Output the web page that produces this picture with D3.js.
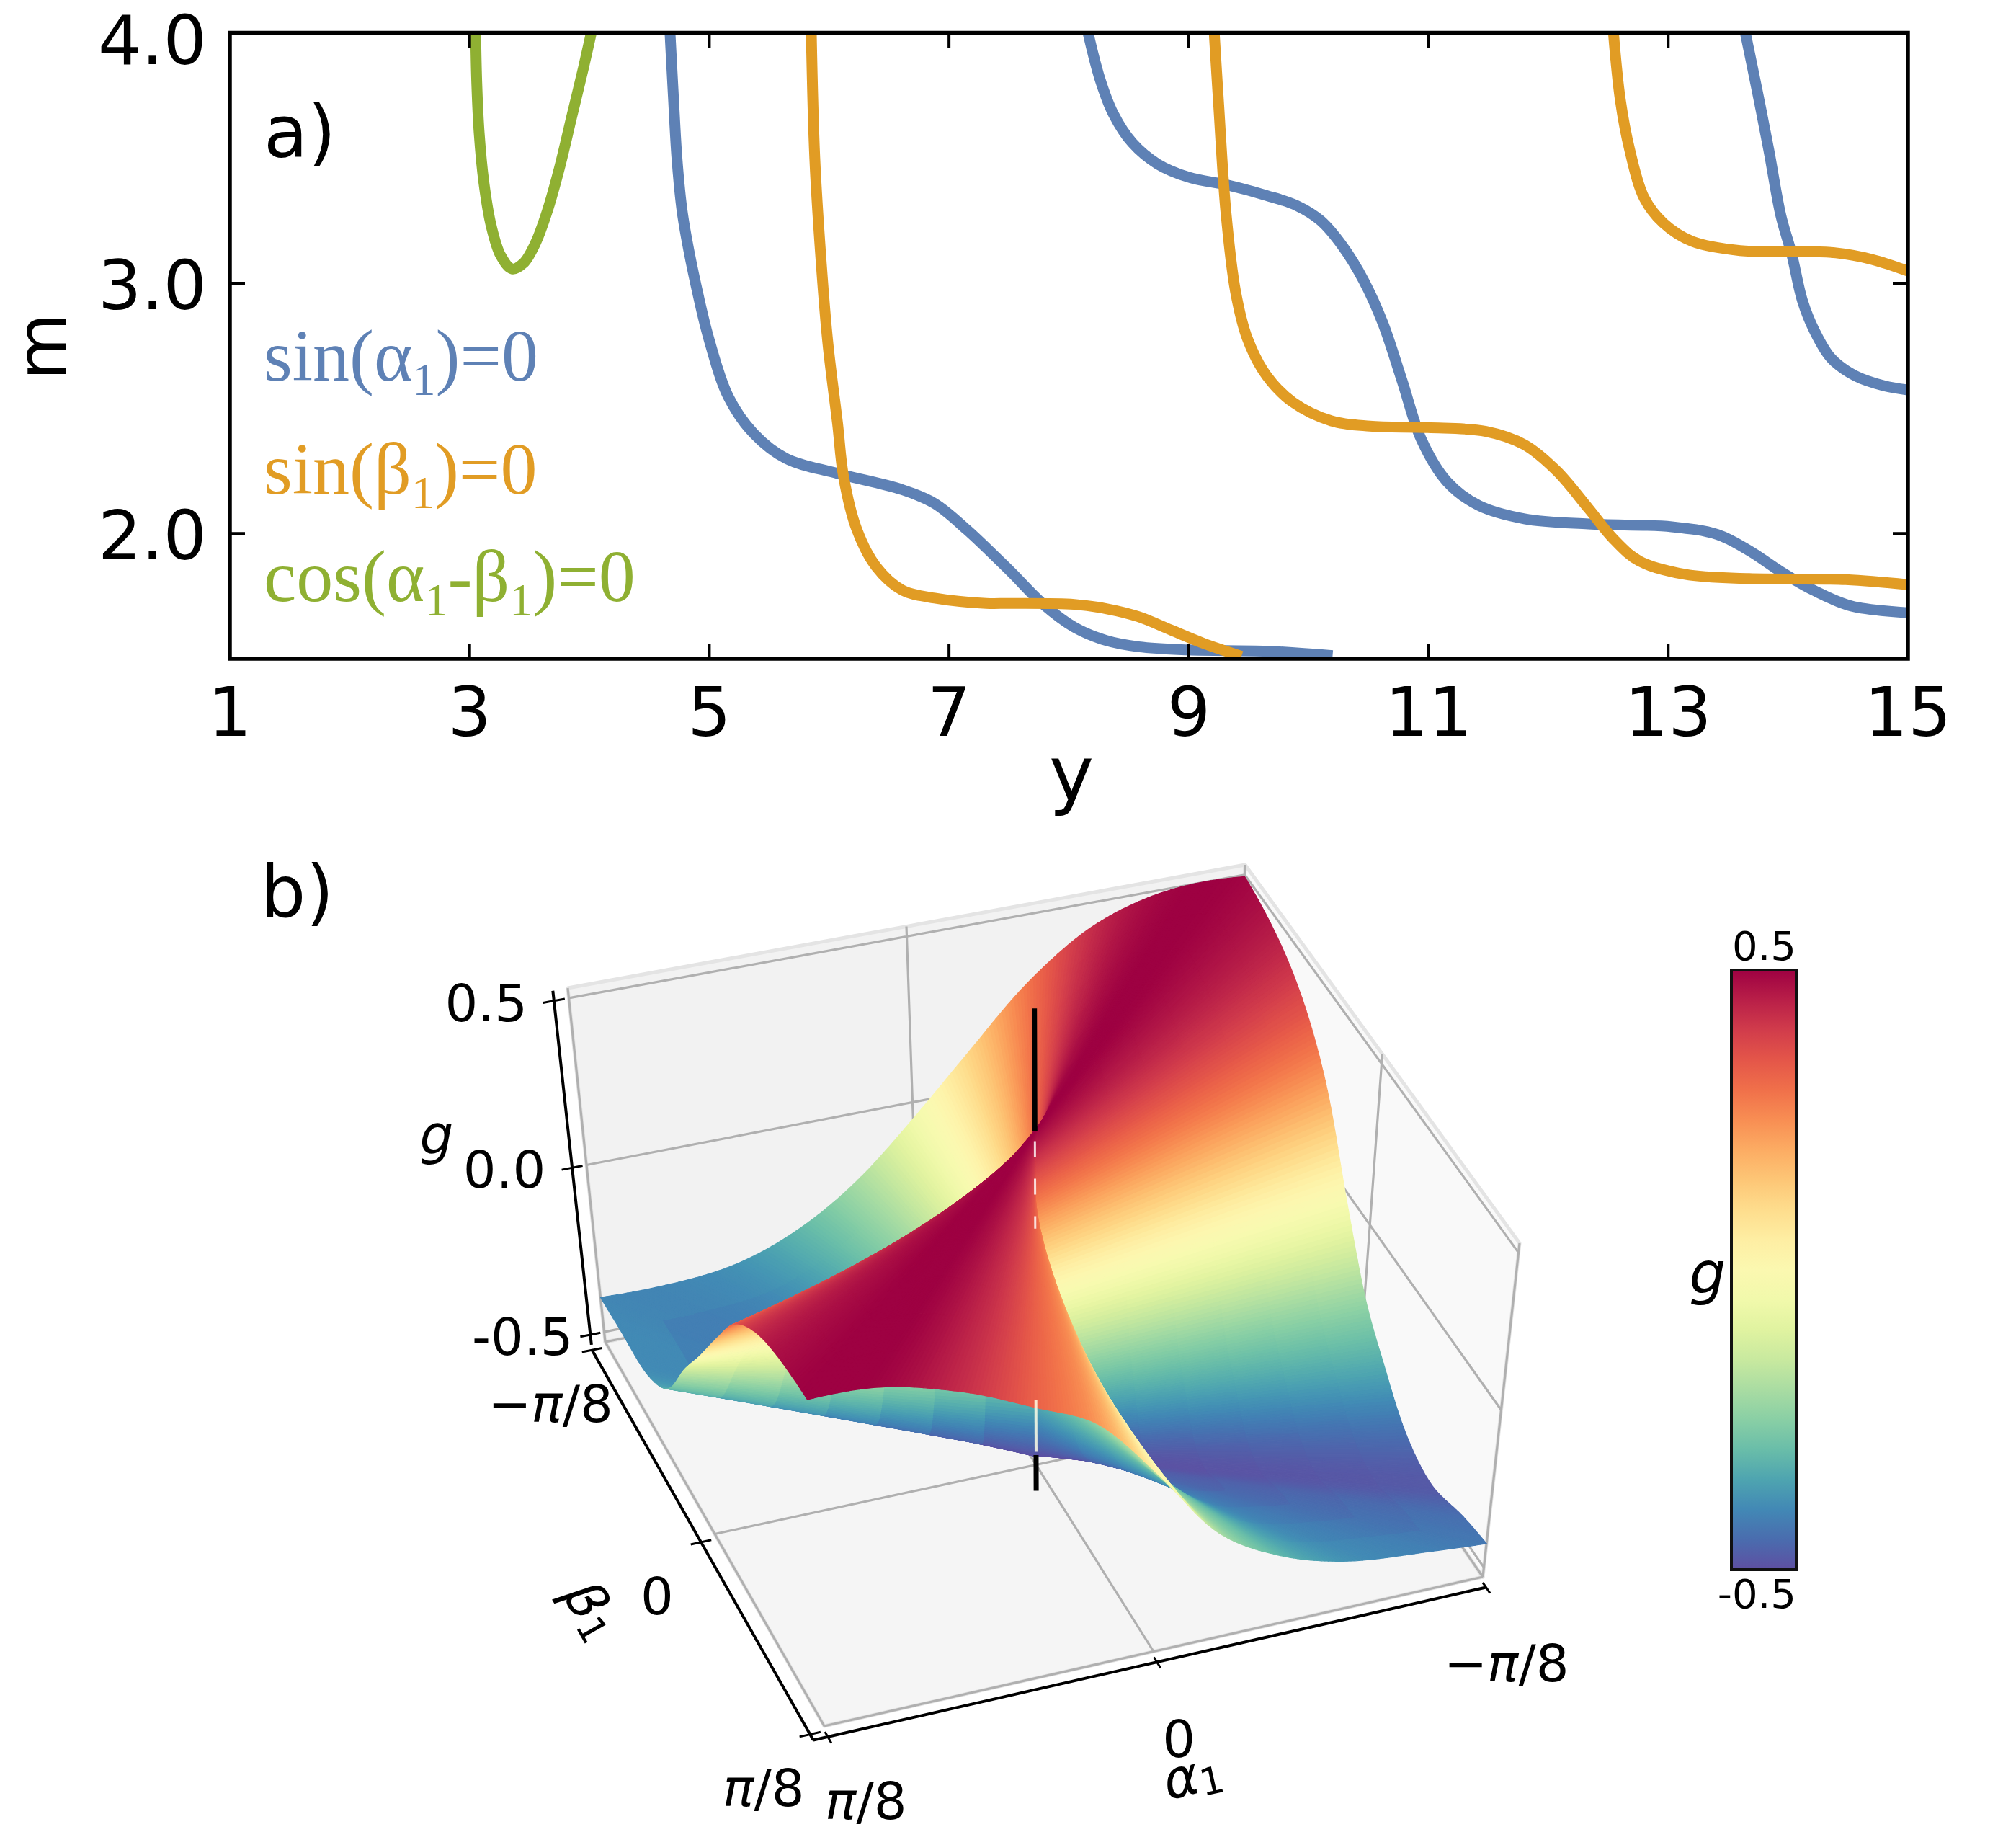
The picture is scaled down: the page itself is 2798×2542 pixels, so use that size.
<!DOCTYPE html>
<html>
<head>
<meta charset="utf-8">
<script src="https://cdn.jsdelivr.net/npm/d3@7"></script>
<style>body{margin:0;background:#fff}</style>
</head>
<body>
<script>
// ---------------- panel a) data: [y, m] points
const yTicks = [1, 3, 5, 7, 9, 11, 13, 15];
const mTicks = [2.0, 3.0, 4.0];

const sinAlphaBranches = [
  [[4.67, 4.02], [4.70, 3.75], [4.73, 3.50], [4.77, 3.30], [4.81, 3.18], [4.89, 2.99], [4.995, 2.78],
   [5.16, 2.545], [5.37, 2.40], [5.64, 2.30], [6.07, 2.24], [6.61, 2.175], [6.88, 2.12], [7.145, 2.017],
   [7.51, 1.85], [7.78, 1.72], [8.045, 1.626], [8.31, 1.573], [8.58, 1.548], [9.0, 1.535], [9.65, 1.53], [10.2, 1.512]],
  [[8.15, 4.02], [8.26, 3.814], [8.37, 3.677], [8.53, 3.56], [8.74, 3.476], [9.0, 3.423], [9.33, 3.391],
   [9.65, 3.35], [9.9, 3.31], [10.1, 3.25], [10.28, 3.15], [10.46, 3.01], [10.62, 2.84], [10.78, 2.61], [10.94, 2.376],
   [11.155, 2.207], [11.42, 2.112], [11.80, 2.059], [12.335, 2.038], [13.03, 2.027], [13.41, 1.996],
   [13.675, 1.932], [13.94, 1.848], [14.21, 1.774], [14.53, 1.71], [15.02, 1.683]],
  [[13.635, 4.02], [13.74, 3.775], [13.84, 3.53], [13.94, 3.27], [14.03, 3.117], [14.12, 2.93], [14.22, 2.81],
   [14.36, 2.70], [14.56, 2.63], [14.80, 2.59], [15.02, 2.572]]
];
const sinBetaBranches = [
  [[5.85, 4.02], [5.88, 3.50], [5.935, 3.074], [5.99, 2.757], [6.07, 2.44], [6.12, 2.228], [6.23, 2.017],
   [6.39, 1.869], [6.61, 1.774], [6.88, 1.742], [7.31, 1.721], [7.51, 1.721], [8.045, 1.717], [8.31, 1.70],
   [8.58, 1.668], [8.85, 1.615], [9.12, 1.562], [9.44, 1.51]],
  [[9.21, 4.02], [9.25, 3.71], [9.31, 3.285], [9.39, 2.968], [9.49, 2.778], [9.65, 2.63], [9.87, 2.524],
   [10.19, 2.45], [10.51, 2.429], [10.995, 2.423], [11.48, 2.408], [11.80, 2.355], [12.07, 2.25], [12.335, 2.10],
   [12.55, 1.975], [12.76, 1.89], [13.14, 1.837], [13.675, 1.82], [14.48, 1.816], [15.02, 1.795]],
  [[12.54, 4.02], [12.60, 3.734], [12.68, 3.53], [12.80, 3.34], [12.96, 3.24], [13.20, 3.167], [13.60, 3.13],
   [14.00, 3.126], [14.40, 3.121], [14.70, 3.095], [15.02, 3.045]]
];
const cosBranches = [
  [[3.05, 4.02], [3.06, 3.80], [3.08, 3.60], [3.12, 3.40], [3.18, 3.23], [3.26, 3.11], [3.355, 3.057],
   [3.45, 3.08], [3.55, 3.16], [3.65, 3.29], [3.75, 3.46], [3.85, 3.66], [3.95, 3.86], [4.025, 4.02]]
];
const series = [
  {name: "sinAlpha", color: "#5e81b5", branches: sinAlphaBranches},
  {name: "sinBeta", color: "#e19c24", branches: sinBetaBranches},
  {name: "cosAlphaBeta", color: "#8fb032", branches: cosBranches}
];

// ---------------- panel b) data
// g along the rulings that leave the singular point (α1, β1) = (0, 0),
// by ruling direction (degrees, atan2(β1, α1)): value next to the origin and at the border
const rayAngles = [-180, -170, -160, -150, -140, -130, -120, -110, -100, -90, -80, -70, -60, -50, -40, -30, -20, -10,
                   0, 10, 20, 30, 40, 50, 60, 70, 80, 90, 100, 110, 120, 130, 140, 150, 160, 170];
const rayGEdge = [-0.22, -0.02, 0.22, 0.38, 0.47, 0.50, 0.44, 0.30, 0.12, -0.05, -0.20, -0.31, -0.38, -0.40, -0.39, -0.38, -0.30, -0.13,
                  0.02, 0.18, 0.34, 0.44, 0.49, 0.50, 0.43, 0.33, 0.23, 0.03, -0.19, -0.31, -0.38, -0.41, -0.44, -0.48, -0.44, -0.34];
const rayGCenter = [-0.24, -0.02, 0.22, 0.38, 0.47, 0.50, 0.44, 0.30, 0.12, -0.05, -0.20, -0.31, -0.42, -0.47, -0.50, -0.50, -0.46, -0.25,
                    0.02, 0.18, 0.34, 0.44, 0.49, 0.50, 0.43, 0.33, 0.23, 0.03, -0.19, -0.31, -0.42, -0.47, -0.49, -0.50, -0.47, -0.36];
const gTicks = [-0.5, 0.0, 0.5];
const alphaTicks = [Math.PI / 8, 0, -Math.PI / 8];
const alphaTickLabels = [["", "π", "/8"], ["0", "", ""], ["−", "π", "/8"]];
const betaTicks = [-Math.PI / 8, 0, Math.PI / 8];
const betaTickLabels = [["−", "π", "/8"], ["0", "", ""], ["", "π", "/8"]];
const gLineParts = [[0.50, 0.88], [-0.61, -0.50]];   // visible parts of the vertical black line at the origin

const W = 2798, H = 2542;
const svg = d3.select("body").append("svg")
    .attr("width", W).attr("height", H)
    .style("font-family", "DejaVu Sans");

// =============== panel a) ===============
const x = d3.scaleLinear().domain([1, 15]).range([319, 2648]);
const y = d3.scaleLinear().domain([1.5, 4]).range([914, 45.5]);

svg.append("clipPath").attr("id", "clipA")
  .append("rect").attr("x", x(1)).attr("y", y(4)).attr("width", x(15) - x(1)).attr("height", y(1.5) - y(4));

const line = d3.line().x(d => x(d[0])).y(d => y(d[1])).curve(d3.curveCatmullRom.alpha(0.5));

const gA = svg.append("g");
gA.append("g").attr("clip-path", "url(#clipA)")
  .selectAll("g").data(series).join("g")
    .attr("stroke", d => d.color)
  .selectAll("path").data(d => d.branches).join("path")
    .attr("fill", "none")
    .attr("stroke-width", 15)
    .attr("stroke-linejoin", "round")
    .attr("d", line);

// frame and inward ticks on all four sides
gA.append("rect")
    .attr("x", x(1)).attr("y", y(4)).attr("width", x(15) - x(1)).attr("height", y(1.5) - y(4))
    .attr("fill", "none").attr("stroke", "#000").attr("stroke-width", 5.5);
const tl = 21;
gA.selectAll(".xt").data(yTicks.slice(1, -1)).join("path")
    .attr("stroke", "#000").attr("stroke-width", 4)
    .attr("d", d => `M${x(d)},${y(1.5)}v${-tl}M${x(d)},${y(4)}v${tl}`);
gA.selectAll(".yt").data(mTicks.slice(0, -1)).join("path")
    .attr("stroke", "#000").attr("stroke-width", 4)
    .attr("d", d => `M${x(1)},${y(d)}h${tl}M${x(15)},${y(d)}h${-tl}`);

gA.selectAll(".xl").data(yTicks).join("text")
    .attr("x", d => x(d)).attr("y", 1021)
    .attr("text-anchor", "middle").attr("font-size", 95)
    .text(d => d);
gA.selectAll(".yl").data(mTicks).join("text")
    .attr("x", 287).attr("y", d => Math.max(y(d) + 36, 89))
    .attr("text-anchor", "end").attr("font-size", 95)
    .text(d => d.toFixed(1));

gA.append("text").attr("transform", "translate(91,481) rotate(-90)")
    .attr("text-anchor", "middle").attr("font-size", 96).text("m");
gA.append("text").attr("x", 1487).attr("y", 1110)
    .attr("text-anchor", "middle").attr("font-size", 105).text("y");
gA.append("text").attr("x", 366).attr("y", 218).attr("font-size", 100).text("a)");

// legend (serif, with subscripts)
const legend = [
  {color: "#5e81b5", y: 528, parts: [["sin(α", 0], ["1", 1], [")=0", 0]]},
  {color: "#e19c24", y: 685, parts: [["sin(β", 0], ["1", 1], [")=0", 0]]},
  {color: "#8fb032", y: 834, parts: [["cos(α", 0], ["1", 1], ["-β", 0], ["1", 1], [")=0", 0]]}
];
const lg = gA.selectAll(".lg").data(legend).join("text")
    .attr("x", 366).attr("y", d => d.y)
    .attr("fill", d => d.color)
    .attr("font-family", "Liberation Serif").attr("font-size", 102);
lg.selectAll("tspan").data(d => d.parts.map((p, i) => [p[0], p[1], i > 0 ? d.parts[i - 1][1] : 0])).join("tspan")
    .attr("font-size", d => d[1] ? 64 : 102)
    .attr("dy", d => d[1] && !d[2] ? 20 : (!d[1] && d[2] ? -20 : 0))
    .text(d => d[0]);

// =============== panel b) ===============
const PI8 = Math.PI / 8;
const gLo = -0.53, gHi = 0.53;
// screen corners of the 3D axes box, keyed by (u, v, w) in {0,1}:
// u: α1 from π/8 to -π/8, v: β1 from -π/8 to π/8, w: g from gLo to gHi
const box = {
  "000": [840, 1862], "010": [1144, 2395], "110": [2058, 2188], "100": [1710, 1685],
  "001": [788, 1371], "011": [1120, 1930], "111": [2109, 1725], "101": [1728, 1200]
};
function tri(u, v, w) {
  let X = 0, Y = 0;
  for (const iu of [0, 1]) for (const iv of [0, 1]) for (const iw of [0, 1]) {
    const k = (iu ? u : 1 - u) * (iv ? v : 1 - v) * (iw ? w : 1 - w);
    const p = box["" + iu + iv + iw];
    X += k * p[0]; Y += k * p[1];
  }
  return [X, Y];
}
const uOf = a => (PI8 - a) / (2 * PI8);
const vOf = b => (b + PI8) / (2 * PI8);
const wOf = g => (g - gLo) / (gHi - gLo);
const seg = (p, q) => `M${p[0]},${p[1]}L${q[0]},${q[1]}`;
const poly = pts => "M" + pts.map(p => p.join(",")).join("L") + "Z";

const gB = svg.append("g");

// panes
const panes = [
  {fill: "#f5f5f5", pts: [[0, 0, 0], [0, 1, 0], [1, 1, 0], [1, 0, 0]]},
  {fill: "#f2f2f2", pts: [[0, 0, 0], [1, 0, 0], [1, 0, 1], [0, 0, 1]]},
  {fill: "#f9f9f9", pts: [[1, 0, 0], [1, 1, 0], [1, 1, 1], [1, 0, 1]]}
];
gB.selectAll(".pane").data(panes).join("path")
    .attr("fill", d => d.fill).attr("stroke", "#e4e4e4").attr("stroke-width", 5)
    .attr("stroke-linejoin", "round")
    .attr("d", d => poly(d.pts.map(p => tri(...p))));

// grid lines
const grid = [];
alphaTicks.forEach(a => {
  const u = uOf(a);
  grid.push(seg(tri(u, 0, 0), tri(u, 1, 0)), seg(tri(u, 0, 0), tri(u, 0, 1)));
});
betaTicks.forEach(b => {
  const v = vOf(b);
  grid.push(seg(tri(0, v, 0), tri(1, v, 0)), seg(tri(1, v, 0), tri(1, v, 1)));
});
gTicks.forEach(g => {
  const w = wOf(g);
  grid.push(seg(tri(0, 0, w), tri(1, 0, w)), seg(tri(1, 0, w), tri(1, 1, w)));
});
gB.append("path").attr("d", grid.join("")).attr("fill", "none")
    .attr("stroke", "#b0b0b0").attr("stroke-width", 3.2);

// axis lines
const ax0 = -0.022, axw = -0.015, av1 = 1.015;
gB.append("path").attr("fill", "none").attr("stroke", "#000").attr("stroke-width", 4)
    .attr("d", seg(tri(ax0, 0, 0), tri(ax0, 0, 1)) + seg(tri(ax0, 0, axw), tri(ax0, av1, axw)) +
               seg(tri(ax0, av1, axw), tri(1, av1, axw)));
// ticks
const ticks = [];
gTicks.forEach(g => ticks.push(seg(tri(ax0 - 0.016, 0, wOf(g)), tri(ax0 + 0.016, 0, wOf(g)))));
betaTicks.forEach(b => ticks.push(seg(tri(ax0 - 0.016, vOf(b), axw), tri(ax0 + 0.016, vOf(b), axw))));
alphaTicks.forEach(a => ticks.push(seg(tri(uOf(a), av1 - 0.013, axw), tri(uOf(a), av1 + 0.016, axw))));
gB.append("path").attr("d", ticks.join("")).attr("stroke", "#000").attr("stroke-width", 3);

// tick labels
function mathLabel(sel, parts) {
  sel.append("tspan").text(parts[0]);
  if (parts[1]) sel.append("tspan").attr("font-style", "italic").text(parts[1]);
  if (parts[2]) sel.append("tspan").text(parts[2]);
}
gTicks.forEach(g => {
  const p = tri(ax0, 0, wOf(g));
  gB.append("text").attr("x", p[0] - 94).attr("y", p[1] + 3)
    .attr("text-anchor", "middle").attr("dominant-baseline", "central")
    .attr("font-size", 72).text(g === 0 ? "0.0" : (g < 0 ? "-" : "") + Math.abs(g).toFixed(1));
});
betaTicks.forEach((b, i) => {
  const p = tri(ax0 - 0.075, vOf(b), axw - 0.126);
  const t = gB.append("text").attr("x", p[0]).attr("y", p[1])
    .attr("text-anchor", "middle").attr("dominant-baseline", "central").attr("font-size", 72);
  mathLabel(t, betaTickLabels[i]);
});
alphaTicks.forEach((a, i) => {
  const p = tri(uOf(a), av1 + 0.1, axw - 0.12);
  const t = gB.append("text").attr("x", p[0] + (i === 0 ? 20 : 0)).attr("y", p[1] - (i === 0 ? 20 : 0))
    .attr("text-anchor", "middle").attr("dominant-baseline", "central").attr("font-size", 72);
  mathLabel(t, alphaTickLabels[i]);
});

// axis labels
gB.append("text").attr("x", 606).attr("y", 1575)
    .attr("text-anchor", "middle").attr("dominant-baseline", "central")
    .attr("font-size", 74).attr("font-style", "italic").text("g");
function subLabel(cx, cy, angle, letter) {
  const t = gB.append("text").attr("transform", `translate(${cx},${cy}) rotate(${angle})`)
    .attr("text-anchor", "middle").attr("dominant-baseline", "central").attr("font-size", 74);
  t.append("tspan").attr("font-style", "italic").text(letter);
  t.append("tspan").attr("font-size", 52).attr("dy", 14).text("1");
}
{
  const pb0 = tri(ax0, 0, axw), pb1 = tri(ax0, 1, axw);
  const pa0 = tri(0, av1, axw), pa1 = tri(1, av1, axw);
  const angB = Math.atan2(pb1[1] - pb0[1], pb1[0] - pb0[0]) * 180 / Math.PI;
  const angA = Math.atan2(pa1[1] - pa0[1], pa1[0] - pa0[0]) * 180 / Math.PI;
  subLabel(822, 2234, angB, "β");
  subLabel(1655, 2463, angA, "α");
}

gB.append("text").attr("x", 361).attr("y", 1272).attr("font-size", 100).text("b)");

// surface: ruled by straight lines from the origin column to the border
const color = d3.scaleSequential(d3.interpolateSpectral).domain([0.5, -0.5]);
const dAng = rayAngles[1] - rayAngles[0];
function profile(vals, theta) {   // periodic Catmull-Rom through the read samples
  const n = rayAngles.length;
  let s = (theta - rayAngles[0]) / dAng;
  s = ((s % n) + n) % n;
  const i = Math.floor(s), t = s - i;
  const p0 = vals[(i - 1 + n) % n], p1 = vals[i], p2 = vals[(i + 1) % n], p3 = vals[(i + 2) % n];
  return 0.5 * (2 * p1 + (-p0 + p2) * t + (2 * p0 - 5 * p1 + 4 * p2 - p3) * t * t +
                (-p0 + 3 * p1 - 3 * p2 + p3) * t * t * t);
}
const step = 0.5, K = 7;
const rays = d3.range(-180, 180, step).map(th => {
  const r = th * Math.PI / 180, c = Math.cos(r), s = Math.sin(r);
  const m = Math.max(Math.abs(c), Math.abs(s));
  return {ca: c / m, cb: s / m, g0: profile(rayGCenter, th), g1: profile(rayGEdge, th)};
});
const gOn = (R, r) => R.g0 + (R.g1 - R.g0) * r;
const P = (R, r) => tri((1 - r * R.ca) / 2, (1 + r * R.cb) / 2, wOf(gOn(R, r)));
const quads = [];
for (let j = 0; j < rays.length; j++) {
  const A = rays[j], B = rays[(j + 1) % rays.length];
  for (let k = 0; k < K; k++) {
    const r0 = k / K, r1 = (k + 1) / K, rm = (r0 + r1) / 2;
    const pts = [P(A, r0), P(A, r1), P(B, r1), P(B, r0)];
    const gm = (gOn(A, rm) + gOn(B, rm)) / 2;
    const depth = 0.542 * rm * ((A.ca + B.ca) / 2 + (A.cb + B.cb) / 2) + 0.45 * (2 * wOf(gm) - 1);
    quads.push({pts, g: gm, depth});
  }
}
quads.sort((a, b) => a.depth - b.depth);
gB.append("g").selectAll("path").data(quads).join("path")
    .attr("d", d => poly(d.pts.map(p => [p[0].toFixed(1), p[1].toFixed(1)])))
    .attr("fill", d => color(d.g))
    .attr("stroke", d => color(d.g))
    .attr("stroke-width", 1.2)
    .attr("stroke-linejoin", "round");

// vertical black line at (α1, β1) = (0, 0), visible above and below the surface
gB.append("path").attr("stroke", "#000").attr("stroke-width", 7)
    .attr("d", gLineParts.map(p => seg(tri(0.5, 0.5, wOf(p[0])), tri(0.5, 0.5, wOf(p[1])))).join(""));
// light seams where the surface wraps round the singular column
gB.append("path").attr("stroke", "#fdfde6").attr("stroke-width", 4).attr("opacity", 0.85)
    .attr("d", seg(tri(0.5, 0.5, wOf(-0.49)), tri(0.5, 0.5, wOf(-0.33))));
gB.append("path").attr("stroke", "#ffffff").attr("stroke-width", 3).attr("opacity", 0.8)
    .attr("stroke-dasharray", "22 30")
    .attr("d", seg(tri(0.5, 0.5, wOf(0.47)), tri(0.5, 0.5, wOf(0.2))));

// colorbar
const cb = {x: 2403, y: 1346, w: 90, h: 832};
const grad = svg.append("defs").append("linearGradient").attr("id", "cbar")
    .attr("x1", 0).attr("y1", 0).attr("x2", 0).attr("y2", 1);
grad.selectAll("stop").data(d3.range(0, 1.0001, 0.05)).join("stop")
    .attr("offset", d => d).attr("stop-color", d => color(0.5 - d));
gB.append("rect").attr("x", cb.x).attr("y", cb.y).attr("width", cb.w).attr("height", cb.h)
    .attr("fill", "url(#cbar)").attr("stroke", "#111").attr("stroke-width", 4);
gB.append("text").attr("x", cb.x + cb.w).attr("y", cb.y - 14).attr("text-anchor", "end")
    .attr("font-size", 56).text("0.5");
gB.append("text").attr("x", cb.x + cb.w).attr("y", cb.y + cb.h + 53).attr("text-anchor", "end")
    .attr("font-size", 56).text("-0.5");
gB.append("text").attr("x", 2370).attr("y", 1766)
    .attr("text-anchor", "middle").attr("dominant-baseline", "central")
    .attr("font-size", 80).attr("font-style", "italic").text("g");
</script>
</body>
</html>
